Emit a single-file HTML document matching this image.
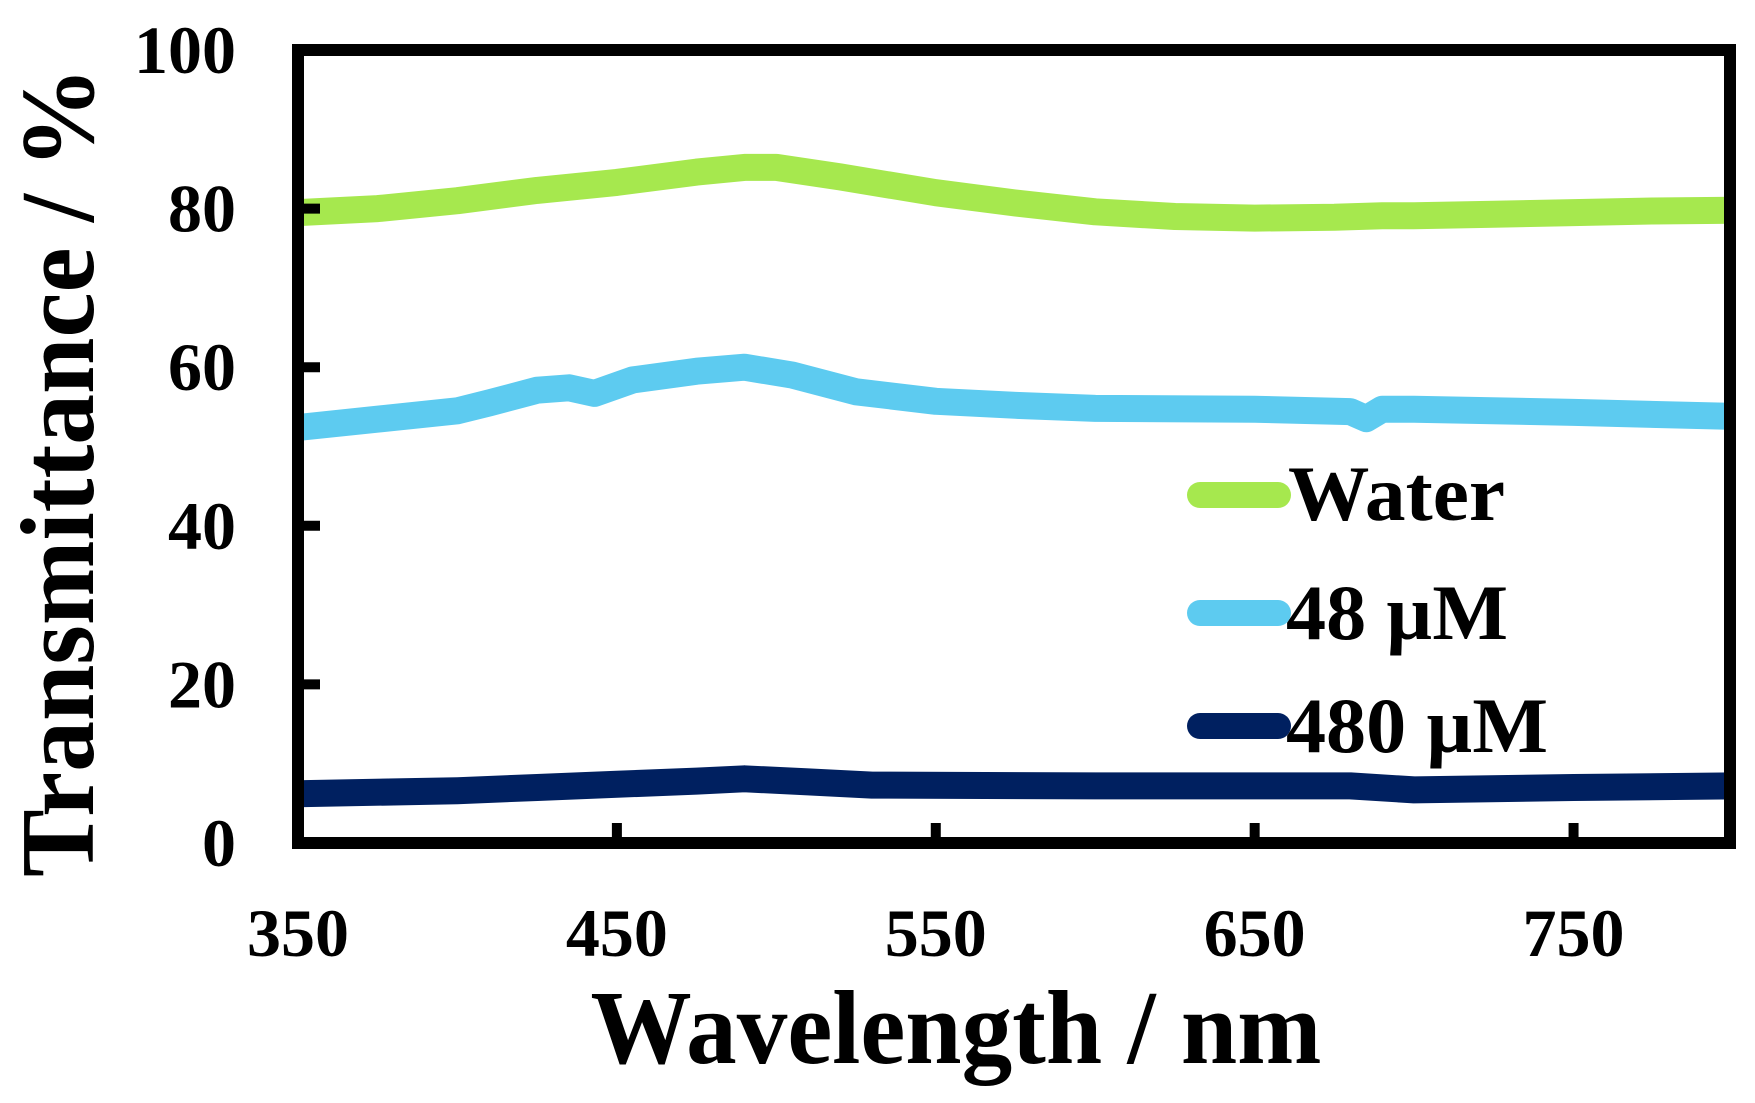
<!DOCTYPE html>
<html><head><meta charset="utf-8"><style>
html,body{margin:0;padding:0;background:#fff;}
svg{display:block;font-family:"Liberation Serif",serif;font-weight:bold;}
</style></head><body>
<svg id="chart" width="1755" height="1103" viewBox="0 0 1755 1103" xmlns="http://www.w3.org/2000/svg">
<g id="series"></g>
<rect x="298" y="50" width="1432" height="793" fill="none" stroke="#000" stroke-width="12"/>
<g id="ticks"></g>
<text x="956" y="1063" font-size="105" text-anchor="middle" textLength="731" lengthAdjust="spacingAndGlyphs">Wavelength / nm</text>
<text transform="translate(93,472) rotate(-90)" font-size="105" text-anchor="middle" textLength="810" lengthAdjust="spacingAndGlyphs">Transmittance / %</text>
<g>
<line x1="1200" y1="495" x2="1278" y2="495" stroke="#a6e84e" stroke-width="26" stroke-linecap="round"/>
<text x="1288" y="520" font-size="78" textLength="217" lengthAdjust="spacingAndGlyphs">Water</text>
<line x1="1200" y1="613" x2="1278" y2="613" stroke="#5dcbf0" stroke-width="26" stroke-linecap="round"/>
<text x="1286" y="639" font-size="78" textLength="222" lengthAdjust="spacingAndGlyphs">48 µM</text>
<line x1="1200" y1="726" x2="1278" y2="726" stroke="#002060" stroke-width="26" stroke-linecap="round"/>
<text x="1286" y="752" font-size="78" textLength="262" lengthAdjust="spacingAndGlyphs">480 µM</text>
</g>
</svg>
<script>
const waterX = [350,375,400,425,450,475,490,500,520,550,575,600,625,650,675,690,700,725,750,775,800];
const waterY = [79.5,80,81,82.3,83.3,84.6,85.2,85.2,84,82,80.7,79.6,79,78.8,78.9,79.1,79.1,79.3,79.5,79.7,79.8];
const m48X = [350,400,410,425,435,443,455,475,490,505,525,550,575,600,650,680,685,690,700,750,800];
const m48Y = [52.4,54.5,55.5,57.1,57.4,56.7,58.4,59.5,60,59,56.9,55.7,55.2,54.8,54.7,54.4,53.5,54.7,54.7,54.3,53.8];
const m480X = [350,400,425,450,475,490,510,530,600,680,700,750,800];
const m480Y = [6.2,6.6,7.0,7.4,7.8,8.1,7.7,7.3,7.2,7.2,6.7,7.0,7.2];
const xTicks = [350,450,550,650,750];
const yTicks = [0,20,40,60,80,100];
const NS = "http://www.w3.org/2000/svg";
function xs(v){return 298 + (v-350)/450*1435;}
function ys(v){return 843 - v/100*793;}
const sg = document.getElementById('series');
function drawLine(X,Y,color,name){
  const p = document.createElementNS(NS,'polyline');
  p.setAttribute('points', X.map((x,i)=>xs(x).toFixed(1)+','+ys(Y[i]).toFixed(1)).join(' '));
  p.setAttribute('fill','none');
  p.setAttribute('stroke',color);
  p.setAttribute('stroke-width','27');
  p.setAttribute('stroke-linejoin','round');
  
  
  sg.appendChild(p);
}
drawLine(waterX,waterY,'#a6e84e','series-water');
drawLine(m48X,m48Y,'#5dcbf0','series-48um');
drawLine(m480X,m480Y,'#002060','series-480um');
const tg = document.getElementById('ticks');
xTicks.forEach(v=>{
  const l = document.createElementNS(NS,'line');
  l.setAttribute('x1',xs(v)); l.setAttribute('x2',xs(v));
  l.setAttribute('y1',823); l.setAttribute('y2',843);
  l.setAttribute('stroke','#000'); l.setAttribute('stroke-width','10');
  
  
  tg.appendChild(l);
  const t = document.createElementNS(NS,'text');
  t.setAttribute('x',xs(v)); t.setAttribute('y',956);
  t.setAttribute('font-size','68'); t.setAttribute('text-anchor','middle');
  t.textContent = v;
  
  
  tg.appendChild(t);
});
yTicks.forEach(v=>{
  if(v>0 && v<100){
    const l = document.createElementNS(NS,'line');
    l.setAttribute('x1',298); l.setAttribute('x2',320);
    l.setAttribute('y1',ys(v)); l.setAttribute('y2',ys(v));
    l.setAttribute('stroke','#000'); l.setAttribute('stroke-width','10');
    
    
    tg.appendChild(l);
  }
  const t = document.createElementNS(NS,'text');
  t.setAttribute('x',236); t.setAttribute('y',ys(v)+23);
  t.setAttribute('font-size','68'); t.setAttribute('text-anchor','end');
  t.textContent = v;
  
  
  tg.appendChild(t);
});
</script>
</body></html>
